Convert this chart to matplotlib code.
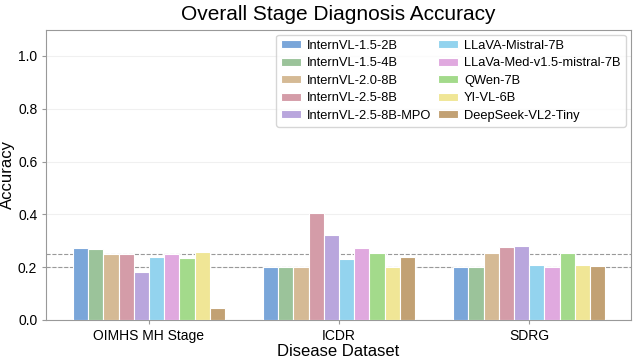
import matplotlib
matplotlib.use("Agg")
import matplotlib.pyplot as plt
import numpy as np

plt.rcParams['font.family'] = ['Liberation Sans', 'DejaVu Sans']

# data
datasets = ["OIMHS MH Stage", "ICDR", "SDRG"]
models = [
    "InternVL-1.5-2B", "InternVL-1.5-4B", "InternVL-2.0-8B", "InternVL-2.5-8B",
    "InternVL-2.5-8B-MPO", "LLaVA-Mistral-7B", "LLaVa-Med-v1.5-mistral-7B",
    "QWen-7B", "YI-VL-6B", "DeepSeek-VL2-Tiny",
]
oimhs = [0.273, 0.268, 0.249, 0.249, 0.182, 0.237, 0.249, 0.235, 0.258, 0.046]
icdr = [0.200, 0.200, 0.200, 0.406, 0.320, 0.229, 0.272, 0.255, 0.200, 0.237]
sdrg = [0.200, 0.200, 0.253, 0.275, 0.279, 0.208, 0.200, 0.253, 0.208, 0.204]
ref_lines = [0.2, 0.25]

colors = ["#7aa6d9", "#9bc39a", "#d5ba95", "#d49ca8", "#b9a6dd",
          "#93d3ee", "#e0a9df", "#a3da8b", "#f0e696", "#c2a174"]

scores = np.array([oimhs, icdr, sdrg])   # rows = dataset, cols = model

fig, ax = plt.subplots(figsize=(6.34, 3.61), dpi=100)
fig.subplots_adjust(left=0.073, right=0.995, top=0.918, bottom=0.114)

x = np.arange(len(datasets))
width = 0.08
for i, name in enumerate(models):
    offs = (i - (len(models) - 1) / 2) * width
    ax.bar(x + offs, scores[:, i], width, color=colors[i], label=name,
           edgecolor="white", linewidth=0.8, zorder=3)

for y in ref_lines:
    ax.axhline(y, color="#999999", linestyle="--", linewidth=0.8, zorder=2)

ax.set_xlim(-0.54, 2.535)
ax.set_ylim(0, 1.1)
ax.set_yticks([0.0, 0.2, 0.4, 0.6, 0.8, 1.0])
ax.set_xticks(x)
ax.set_xticklabels(datasets)
ax.yaxis.grid(True, color="#f0f0f0", linewidth=0.8, zorder=0)
ax.tick_params(labelsize=10, color="#999999", length=3)
for sp in ax.spines.values():
    sp.set_color("#999999")

ax.set_title("Overall Stage Diagnosis Accuracy", fontsize=15, pad=7)
ax.set_xlabel("Disease Dataset", fontsize=12, labelpad=1)
ax.set_ylabel("Accuracy", fontsize=12, labelpad=2)

ax.legend(ncol=2, loc="upper right", fontsize=9.3, frameon=True,
          edgecolor="#cccccc", fancybox=True, handlelength=1.5,
          handleheight=0.6, handletextpad=0.5,
          columnspacing=0.5, labelspacing=0.42, borderaxespad=0.4)

plt.savefig("out.png", dpi=100)
